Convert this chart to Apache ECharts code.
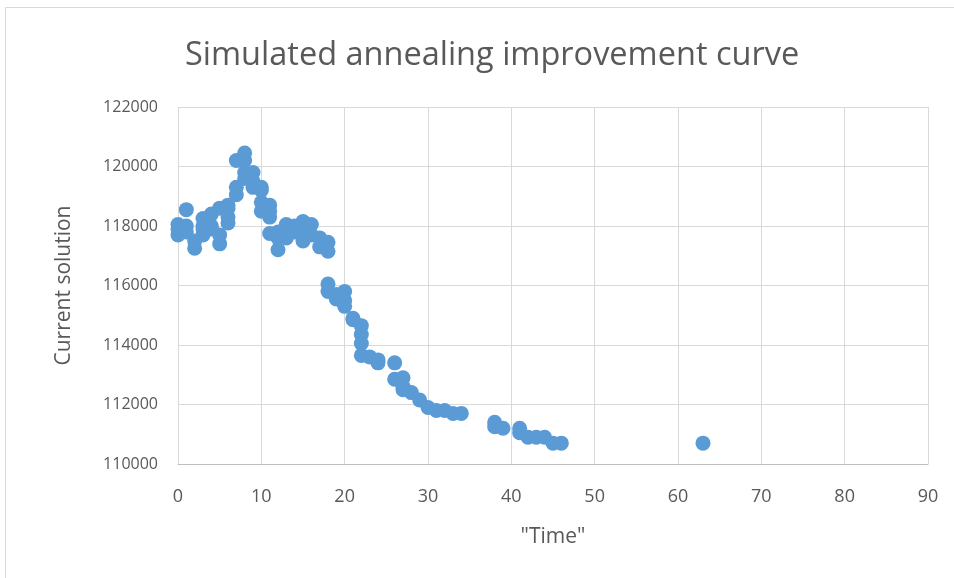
<!DOCTYPE html>
<html>
<head>
<meta charset="utf-8">
<script src="https://cdn.jsdelivr.net/npm/echarts@6/dist/echarts.min.js"></script>
<style>
html,body{margin:0;padding:0;background:#fff;}
#c{width:954px;height:578px;}
</style>
</head>
<body>
<div id="c"></div>
<script>
const timeValues = [0,0,0,1,1,1,2,2,3,3,3,3,4,4,4,5,5,5,6,6,6,6,7,7,7,8,8,8,8,9,9,9,10,10,10,10,11,11,11,11,12,12,12,13,13,13,14,14,15,15,15,16,16,17,17,18,18,18,18,19,19,20,20,20,21,21,22,22,22,22,23,24,24,26,26,27,27,27,28,29,30,31,32,33,34,38,38,39,41,41,42,43,44,45,46,63];
const solutionValues = [117700,117900,118050,118550,118000,117800,117500,117250,117700,118000,118250,117900,118400,118000,117900,118600,117700,117400,118600,118300,118100,118700,120200,119300,119050,120450,120200,119800,119600,119800,119500,119300,119300,118800,118500,119200,118700,118300,117750,118500,117600,117200,117800,118050,117800,117600,118000,117800,118150,117800,117500,118050,117700,117600,117300,117450,117150,116050,115800,115700,115550,115800,115500,115300,114900,114850,114650,114350,114050,113650,113600,113500,113400,113400,112850,112900,112600,112500,112400,112150,111900,111800,111800,111700,111700,111400,111250,111200,111200,111050,110900,110900,110900,110700,110700,110700];
const xTicks = {min:0, max:90, interval:10};
const yTicks = {min:110000, max:122000, interval:2000};
const titleText = 'Simulated annealing improvement curve';
const xName = '"Time"';
const yName = 'Current solution';

const points = timeValues.map((t,i)=>[t, solutionValues[i]]);
const chart = echarts.init(document.getElementById('c'), null, {renderer:'canvas'});
const font = 'Open Sans';
chart.setOption({
  animation:false,
  backgroundColor:'#fff',
  graphic:[{type:'rect', shape:{x:5.5,y:7.5,width:1000,height:700}, style:{fill:'none', stroke:'#d9d9d9', lineWidth:1}, silent:true}],
  title:{text:titleText, left:180, top:34, textStyle:{fontFamily:font, fontSize:32.5, fontWeight:'normal', color:'#595959'}},
  grid:{left:178, right:26, top:107, bottom:114, containLabel:false},
  xAxis:{type:'value', min:xTicks.min, max:xTicks.max, interval:xTicks.interval,
    name:xName, nameLocation:'middle', nameGap:63,
    nameTextStyle:{fontFamily:font, fontSize:21, color:'#595959'},
    axisLine:{show:true, onZero:false, lineStyle:{color:'#bfbfbf', width:1}},
    axisTick:{show:false},
    axisLabel:{fontFamily:font, fontSize:18, color:'#595959', margin:24},
    splitLine:{show:true, lineStyle:{color:'#d9d9d9', width:1}}},
  yAxis:{type:'value', min:yTicks.min, max:yTicks.max, interval:yTicks.interval,
    name:yName, nameLocation:'middle', nameGap:103,
    nameTextStyle:{fontFamily:font, fontSize:21, color:'#595959'},
    axisLine:{show:false}, axisTick:{show:false},
    axisLabel:{fontFamily:font, fontSize:16, color:'#595959', margin:20, formatter:v=>String(v)},
    splitLine:{show:true, lineStyle:{color:'#d9d9d9', width:1}}},
  series:[{type:'scatter', data:points, symbol:'circle', symbolSize:15,
    itemStyle:{color:'#5b9bd5', opacity:1}}]
});
</script>
</body>
</html>
